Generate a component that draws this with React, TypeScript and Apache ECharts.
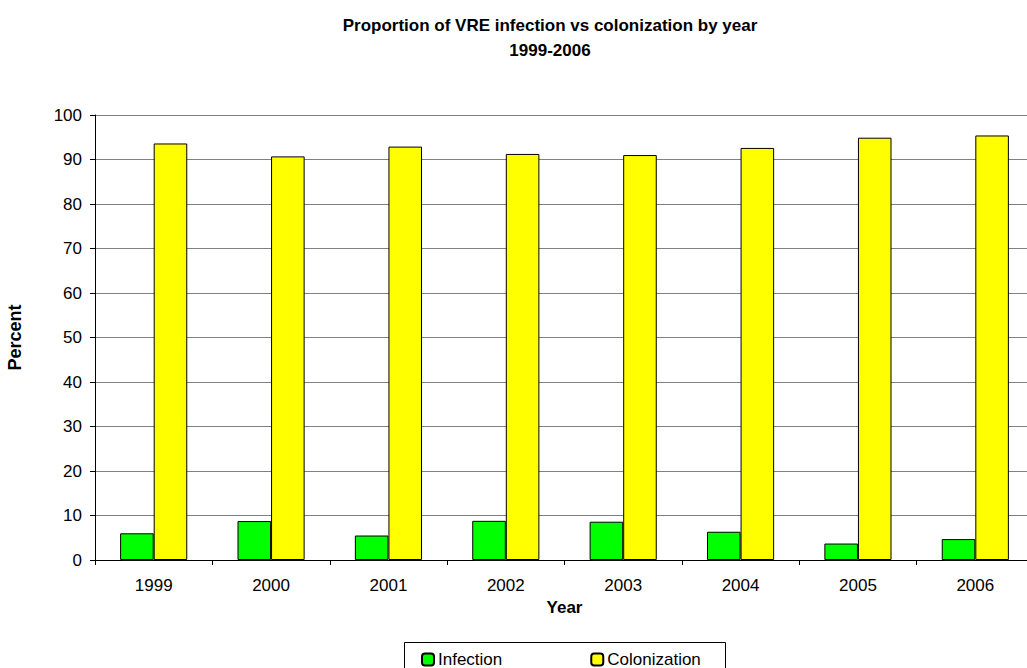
import React, { useEffect, useRef } from "react";
import * as echarts from "echarts";

const years = ["1999", "2000", "2001", "2002", "2003", "2004", "2005", "2006"];
const infection = [6.0, 8.75, 5.5, 8.8, 8.6, 6.35, 3.7, 4.7];
const colonization = [93.6, 90.7, 92.9, 91.25, 91.0, 92.6, 94.9, 95.4];
const yTicks = { min: 0, max: 100, interval: 10 };

const FONT = "Arial, 'Liberation Sans', sans-serif";

export default function App() {
  const ref = useRef<HTMLDivElement>(null);
  useEffect(() => {
    const chart = echarts.init(ref.current!, null, { renderer: "svg" });
    chart.setOption({
      animation: false,
      backgroundColor: "#fff",
      textStyle: { fontFamily: FONT },
      title: {
        text: "Proportion of VRE infection vs colonization by year\n1999-2006",
        left: 545,
        textAlign: "center",
        top: 8,
        textStyle: { fontFamily: FONT, fontSize: 17, fontWeight: "bold", color: "#000", lineHeight: 25 },
      },
      legend: {
        left: 416,
        top: 646,
        itemWidth: 12,
        itemHeight: 12,
        itemGap: 88,
        textStyle: { fontFamily: FONT, fontSize: 17, color: "#000", padding: [0, 0, 0, -1], lineHeight: 17 },
        data: ["Infection", "Colonization"],
      },
      graphic: [
        {
          type: "rect",
          shape: { x: 404.5, y: 642.5, width: 321, height: 40 },
          style: { fill: "none", stroke: "#000", lineWidth: 1 },
          z: 0,
        },
      ],
      grid: { left: 95, right: -7, top: 115, bottom: 108, containLabel: false, outerBoundsMode: "none" },
      xAxis: {
        type: "category",
        data: years,
        name: "Year",
        nameLocation: "middle",
        nameGap: 37,
        nameTextStyle: { fontFamily: FONT, fontSize: 17, fontWeight: "bold", color: "#000" },
        axisLine: { lineStyle: { color: "#000", width: 1 } },
        axisTick: { show: true, length: 5, lineStyle: { color: "#000" } },
        axisLabel: { fontFamily: FONT, fontSize: 17, color: "#000", margin: 17 },
      },
      yAxis: {
        type: "value",
        min: yTicks.min,
        max: yTicks.max,
        interval: yTicks.interval,
        name: "Percent",
        nameLocation: "middle",
        nameGap: 71,
        nameTextStyle: { fontFamily: FONT, fontSize: 18, fontWeight: "bold", color: "#000" },
        axisLine: { show: true, lineStyle: { color: "#000", width: 1 } },
        axisTick: { show: true, length: 5, lineStyle: { color: "#000" } },
        axisLabel: { fontFamily: FONT, fontSize: 17, color: "#000", margin: 13 },
        splitLine: { show: true, lineStyle: { color: "#808080", width: 1 } },
      },
      series: [
        {
          name: "Infection",
          type: "bar",
          data: infection,
          barWidth: "28.6%",
          barGap: "0%",
          itemStyle: { color: "#00ff00", borderColor: "#000", borderWidth: 1 },
        },
        {
          name: "Colonization",
          type: "bar",
          data: colonization,
          barWidth: "28.6%",
          barGap: "0%",
          itemStyle: { color: "#ffff00", borderColor: "#000", borderWidth: 1 },
        },
      ],
    });
    return () => chart.dispose();
  }, []);
  return <div ref={ref} style={{ width: 1027, height: 668, position: "absolute", left: 0, top: 0 }} />;
}
